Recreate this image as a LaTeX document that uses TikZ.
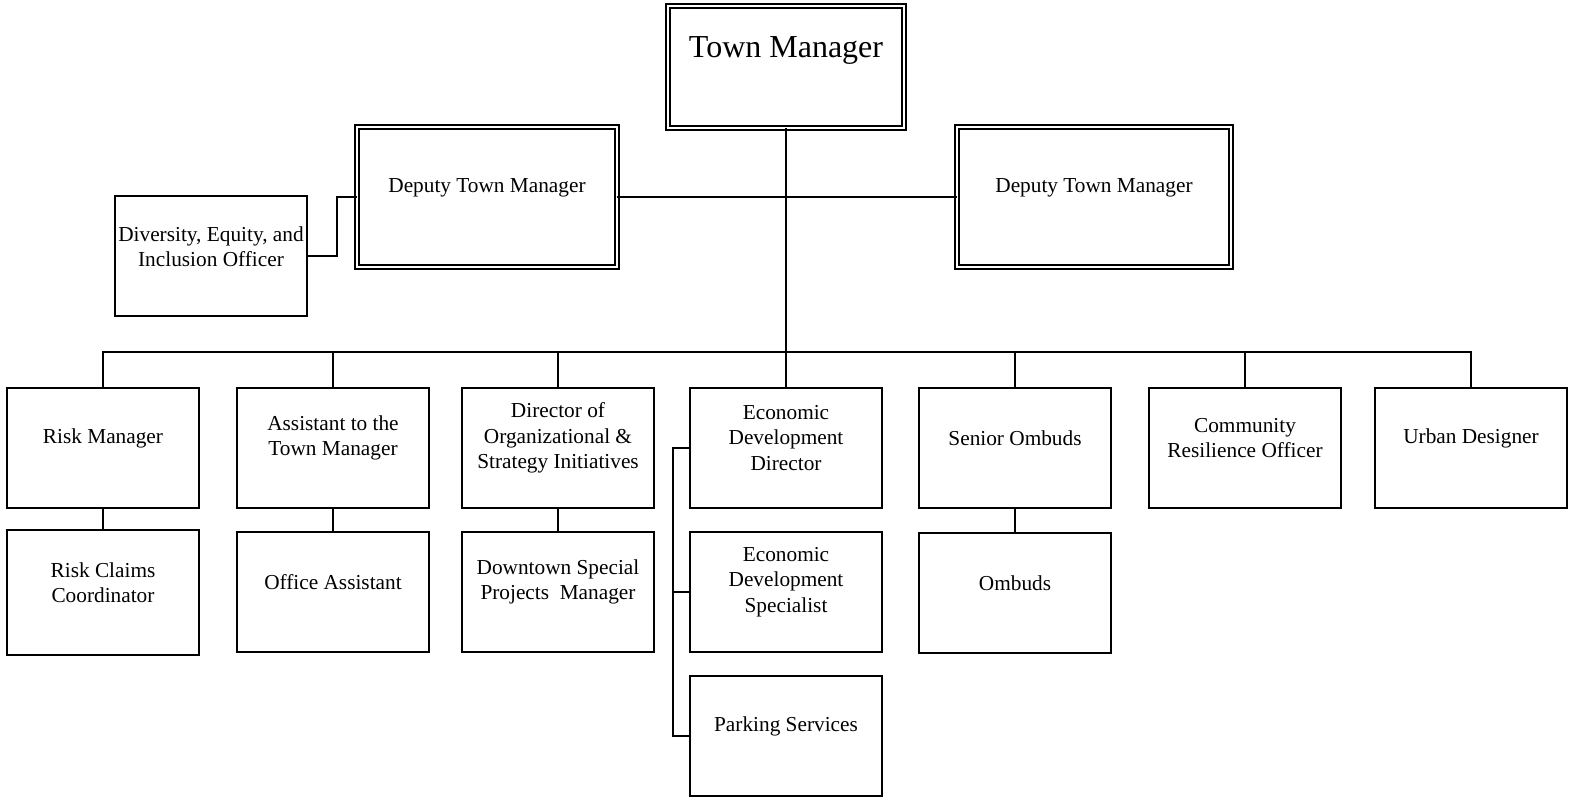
\documentclass[tikz,border=0pt]{standalone}
\usepackage{fontspec}
\setmainfont{Liberation Serif}
\begin{document}
\begin{tikzpicture}[x=1pt,y=-1pt,
  box/.style={draw,line width=2pt,minimum width=192pt,minimum height=120pt,inner sep=0pt,outer sep=0pt},
  dbox/.style={draw,line width=2pt,double,double distance=2pt,inner sep=0pt,outer sep=0pt},
  lbl/.style={align=center,inner sep=0pt,font=\fontsize{21.3}{25.5}\selectfont},
  link/.style={line width=2pt}]
\useasboundingbox (0,0) rectangle (1570,798);

% top level
\node[dbox,minimum width=236pt,minimum height=122pt] (tm) at (786,67) {};
\node[inner sep=0pt,font=\fontsize{32}{36}\selectfont] (tmt) at ([yshift=16.5pt]tm.center) {Town Manager};

% deputies and the officer reporting to the first one
\node[dbox,minimum width=260pt,minimum height=140pt] (dl) at (487,197) {};
\node[lbl] (dlt) at ([yshift=9pt]dl.center) {Deputy Town Manager};
\node[dbox,minimum width=274pt,minimum height=140pt] (dr) at (1094,197) {};
\node[lbl] (drt) at ([yshift=9pt]dr.center) {Deputy Town Manager};
\node[box] (dei) at (211,256) {};
\node[lbl] (deit) at ([yshift=9.5pt]dei.center) {Diversity, Equity, and\\Inclusion Officer};

% direct reports
\node[box] (risk) at (103,448) {};
\node[lbl] (riskt) at ([yshift=10pt]risk.center) {Risk Manager};
\node[box] (asst) at (333,448) {};
\node[lbl] (asstt) at ([yshift=10pt]asst.center) {Assistant to the\\Town Manager};
\node[box] (dir) at (558,448) {};
\node[lbl] (dirt) at ([yshift=10pt]dir.center) {Director of\\Organizational \&\\Strategy Initiatives};
\node[box] (ecd) at (786,448) {};
\node[lbl] (ecdt) at ([yshift=10pt]ecd.center) {Economic\\Development\\Director};
\node[box] (somb) at (1015,448) {};
\node[lbl] (sombt) at ([yshift=10pt]somb.center) {Senior Ombuds};
\node[box] (cro) at (1245,448) {};
\node[lbl] (crot) at ([yshift=10pt]cro.center) {Community\\Resilience Officer};
\node[box] (urb) at (1471,448) {};
\node[lbl] (urbt) at ([yshift=10pt]urb.center) {Urban Designer};

% second tier
\node[box,minimum height=125pt] (rcc) at (103,592.5) {};
\node[lbl] (rcct) at ([yshift=10pt]rcc.center) {Risk Claims\\Coordinator};
\node[box] (offa) at (333,592) {};
\node[lbl] (offat) at ([yshift=10pt]offa.center) {Office Assistant};
\node[box] (dspm) at (558,592) {};
\node[lbl] (dspmt) at ([yshift=10pt]dspm.center) {Downtown Special\\Projects\ \ Manager};
\node[box] (ecs) at (786,592) {};
\node[lbl] (ecst) at ([yshift=10pt]ecs.center) {Economic\\Development\\Specialist};
\node[box] (omb) at (1015,593) {};
\node[lbl] (ombt) at ([yshift=10pt]omb.center) {Ombuds};
\node[box] (park) at (786,736) {};
\node[lbl] (parkt) at ([yshift=10pt]park.center) {Parking Services};

% connector helpers
\coordinate (bus) at (786,352);
\coordinate (deiel) at (337,226);
\coordinate (ebus) at (673,449);

% lines
\draw[link] (tm.south) -- (bus);
\draw[link] (dl.east) -- (dr.west);
\draw[link] (dei.east) -| (deiel) |- (dl.west);
\draw[link] (risk.north) -- (risk.north |- bus) -- (urb.north |- bus) -- (urb.north);
\foreach \n in {asst,dir,ecd,somb,cro}
  \draw[link] (\n.north) -- (\n.north |- bus);
\draw[link] (risk.south) -- (rcc.north);
\draw[link] (asst.south) -- (offa.north);
\draw[link] (dir.south) -- (dspm.north);
\draw[link] (somb.south) -- (omb.north);
\draw[link] (ecd.west) -- (ecd.west -| ebus) -- (park.west -| ebus) -- (park.west);
\draw[link] (ecs.west -| ebus) -- (ecs.west);
\end{tikzpicture}
\end{document}
